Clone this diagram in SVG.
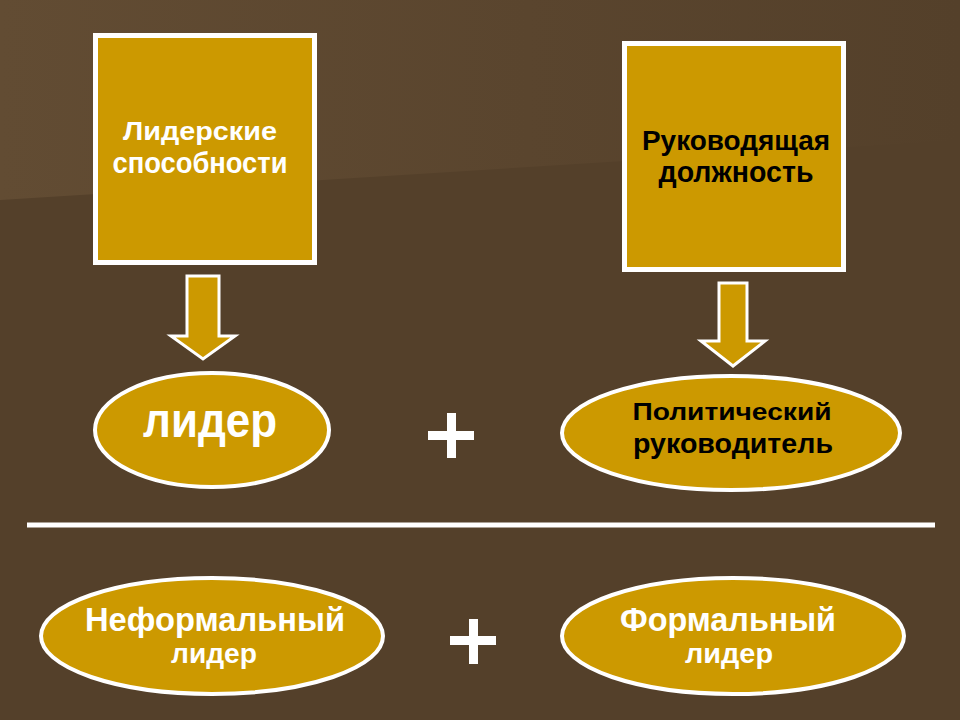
<svg xmlns="http://www.w3.org/2000/svg" width="960" height="720" viewBox="0 0 960 720">
<defs>
<linearGradient id="bgTop" x1="0" y1="0" x2="1" y2="0">
<stop offset="0" stop-color="#624c33"/>
<stop offset="0.55" stop-color="#5a452e"/>
<stop offset="1" stop-color="#54402a"/>
</linearGradient>
<style>
.box{fill:#cc9900;stroke:#ffffff;stroke-width:5}
.ell{fill:#cc9900;stroke:#ffffff;stroke-width:4}
.arr{fill:#cc9900;stroke:#ffffff;stroke-width:3;stroke-linejoin:miter}
.t{font-family:"Liberation Sans",Arial,sans-serif;font-weight:bold;text-anchor:middle}
.w{fill:#ffffff}
.k{fill:#000000}
.plus{fill:#ffffff}
</style>
</defs>
<rect x="0" y="0" width="960" height="720" fill="#54402a"/>
<polygon points="0,0 960,0 960,140 0,200" fill="url(#bgTop)"/>
<g id="connectors">
<path class="arr" d="M187,276 H219 V336 H235 L203,359 L171,336 H187 Z"/>
<path class="arr" d="M719,283 H747 V341 H765 L733,366 L701,341 H719 Z"/>
<line x1="27" y1="525" x2="935" y2="525" stroke="#ffffff" stroke-width="5"/>
</g>
<g id="box-leadership">
<rect class="box" x="95.5" y="35.5" width="219" height="227"/>
<text class="t w" x="200" y="140" font-size="25" textLength="154" lengthAdjust="spacingAndGlyphs">Лидерские</text>
<text class="t w" x="200" y="173" font-size="30" textLength="175" lengthAdjust="spacingAndGlyphs">способности</text>
</g>
<g id="box-position">
<rect class="box" x="624.5" y="43.5" width="219" height="226"/>
<text class="t k" x="736" y="150" font-size="27" textLength="188" lengthAdjust="spacingAndGlyphs">Руководящая</text>
<text class="t k" x="736" y="182" font-size="29" textLength="155" lengthAdjust="spacingAndGlyphs">должность</text>
</g>
<g id="ell-leader">
<ellipse class="ell" cx="212" cy="430" rx="117" ry="57"/>
<text class="t w" x="210" y="437" font-size="48" textLength="134" lengthAdjust="spacingAndGlyphs">лидер</text>
</g>
<g id="plus-1">
<rect class="plus" x="428" y="431" width="46" height="9"/>
<rect class="plus" x="447" y="413" width="9" height="45"/>
</g>
<g id="ell-political">
<ellipse class="ell" cx="731" cy="433" rx="169" ry="57"/>
<text class="t k" x="732" y="420" font-size="24" textLength="199" lengthAdjust="spacingAndGlyphs">Политический</text>
<text class="t k" x="733" y="453" font-size="28" textLength="200" lengthAdjust="spacingAndGlyphs">руководитель</text>
</g>
<g id="ell-informal">
<ellipse class="ell" cx="212" cy="636" rx="171" ry="58"/>
<text class="t w" x="215" y="631" font-size="33" textLength="260" lengthAdjust="spacingAndGlyphs">Неформальный</text>
<text class="t w" x="214" y="663" font-size="28" textLength="86" lengthAdjust="spacingAndGlyphs">лидер</text>
</g>
<g id="plus-2">
<rect class="plus" x="450" y="636" width="46" height="9"/>
<rect class="plus" x="469" y="619" width="9" height="45"/>
</g>
<g id="ell-formal">
<ellipse class="ell" cx="733" cy="636" rx="171" ry="58"/>
<text class="t w" x="728" y="631" font-size="33" textLength="216" lengthAdjust="spacingAndGlyphs">Формальный</text>
<text class="t w" x="729" y="663" font-size="28" textLength="88" lengthAdjust="spacingAndGlyphs">лидер</text>
</g>
</svg>
